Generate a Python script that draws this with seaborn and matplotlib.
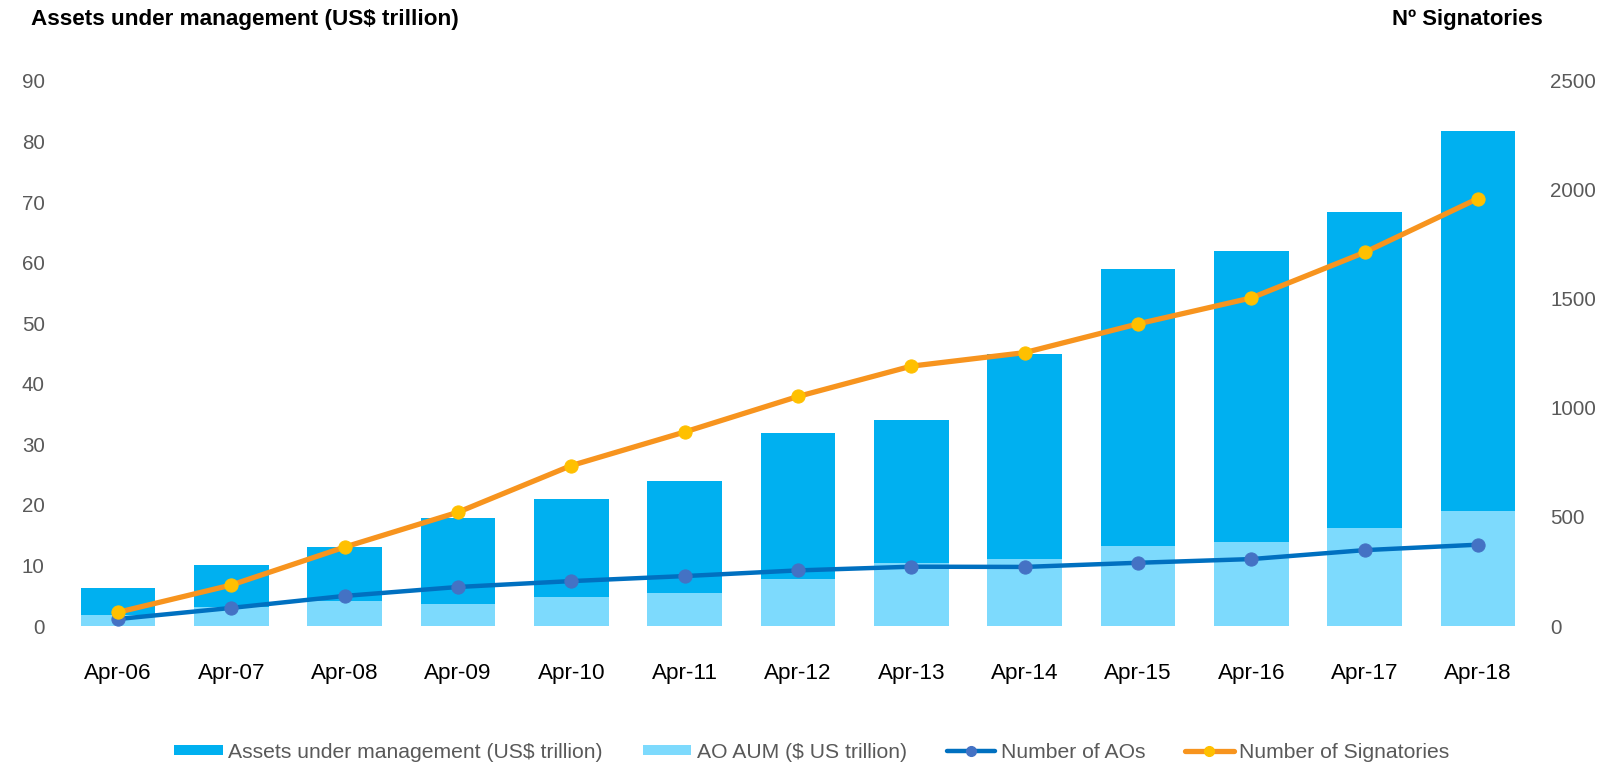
import numpy as np
import pandas as pd
import matplotlib
matplotlib.use("Agg")
import matplotlib.pyplot as plt
from matplotlib.patches import Patch
from matplotlib.lines import Line2D
import seaborn as sns

# ---- data ----
categories = ["Apr-06", "Apr-07", "Apr-08", "Apr-09", "Apr-10", "Apr-11", "Apr-12",
              "Apr-13", "Apr-14", "Apr-15", "Apr-16", "Apr-17", "Apr-18"]
aum_total = [6.3, 10.0, 13.0, 17.8, 21.0, 23.9, 31.9, 34.0, 45.0, 59.0, 62.0, 68.4, 81.7]
ao_aum = [1.8, 3.1, 4.2, 3.6, 4.8, 5.5, 7.7, 10.4, 11.1, 13.2, 13.9, 16.2, 19.0]
num_aos = [32, 83, 138, 179, 206, 229, 255, 272, 271, 290, 307, 348, 373]
num_signatories = [63, 188, 362, 522, 736, 890, 1053, 1192, 1254, 1386, 1505, 1714, 1961]
left_ticks = [0, 10, 20, 30, 40, 50, 60, 70, 80, 90]
right_ticks = [0, 500, 1000, 1500, 2000, 2500]

label_aum = "Assets under management (US$ trillion)"
label_ao = "AO AUM ($ US trillion)"
label_aos = "Number of AOs"
label_sig = "Number of Signatories"

c_dark = "#00B0F0"
c_light = "#7DDAFD"
c_aos = "#0070C0"
c_aos_m = "#4472C4"
c_sig = "#F7941E"
c_sig_m = "#FFC000"
c_tick = "#595959"

sns.set_theme(style="white")
plt.rcParams["font.family"] = ["Liberation Sans", "DejaVu Sans"]

df = pd.DataFrame({"cat": categories, "aum": aum_total, "ao": ao_aum,
                   "aos": num_aos, "sig": num_signatories})
df["pos"] = np.arange(len(df))

fig = plt.figure(figsize=(15.98, 7.66), dpi=100)
ax = fig.add_axes([60 / 1598, 1 - 626 / 766, (1535 - 60) / 1598, (626 - 81) / 766])

sns.barplot(data=df, x="cat", y="aum", color=c_dark, width=0.66, ax=ax,
            saturation=1, errorbar=None, linewidth=0, edgecolor="none")
sns.barplot(data=df, x="cat", y="ao", color=c_light, width=0.66, ax=ax,
            saturation=1, errorbar=None, linewidth=0, edgecolor="none")

ax.set_ylim(0, 90)
ax.set_yticks(left_ticks)
ax.set_xlim(-0.512, 12.503)
ax.set_xlabel("")
ax.set_ylabel("")
ax.tick_params(axis="y", length=0, pad=11, labelsize=14.8, labelcolor=c_tick)
ax.tick_params(axis="x", length=0, pad=27, labelsize=16.2, labelcolor="black")
for s in ax.spines.values():
    s.set_visible(False)

ax2 = ax.twinx()
sns.lineplot(data=df, x="pos", y="aos", ax=ax2, color=c_aos, linewidth=3.2,
             marker="o", markersize=9.5, markerfacecolor=c_aos_m, markeredgecolor=c_aos_m)
sns.lineplot(data=df, x="pos", y="sig", ax=ax2, color=c_sig, linewidth=3.8,
             marker="o", markersize=9.5, markerfacecolor=c_sig_m, markeredgecolor=c_sig_m)
ax2.set_ylim(0, 2500)
ax2.set_yticks(right_ticks)
ax2.set_xlim(-0.512, 12.503)
ax2.set_xlabel("")
ax2.set_ylabel("")
ax2.tick_params(axis="y", length=0, pad=11, labelsize=14.8, labelcolor=c_tick)
ax2.grid(False)
for s in ax2.spines.values():
    s.set_visible(False)

fig.text(31 / 1598, 1 - 20 / 766, "Assets under management (US$ trillion)",
         ha="left", va="center", fontsize=16.2, fontweight="bold", color="black")
fig.text(1543 / 1598, 1 - 20 / 766, "Nº Signatories",
         ha="right", va="center", fontsize=15.9, fontweight="bold", color="black")

handles = [
    Patch(facecolor=c_dark, edgecolor="none"),
    Patch(facecolor=c_light, edgecolor="none"),
    Line2D([], [], color=c_aos, linewidth=3.2, marker="o", markersize=7,
           markerfacecolor=c_aos_m, markeredgecolor=c_aos_m),
    Line2D([], [], color=c_sig, linewidth=3.8, marker="o", markersize=7,
           markerfacecolor=c_sig_m, markeredgecolor=c_sig_m),
]
leg = fig.legend(handles, [label_aum, label_ao, label_aos, label_sig],
                 loc="center", bbox_to_anchor=(0.508, 0.018), ncol=4, frameon=False,
                 fontsize=15.2, handlelength=2.3, handleheight=0.35,
                 handletextpad=0.25, columnspacing=1.9, borderpad=0)
for t in leg.get_texts():
    t.set_color(c_tick)

fig.savefig("out.png", dpi=100)
